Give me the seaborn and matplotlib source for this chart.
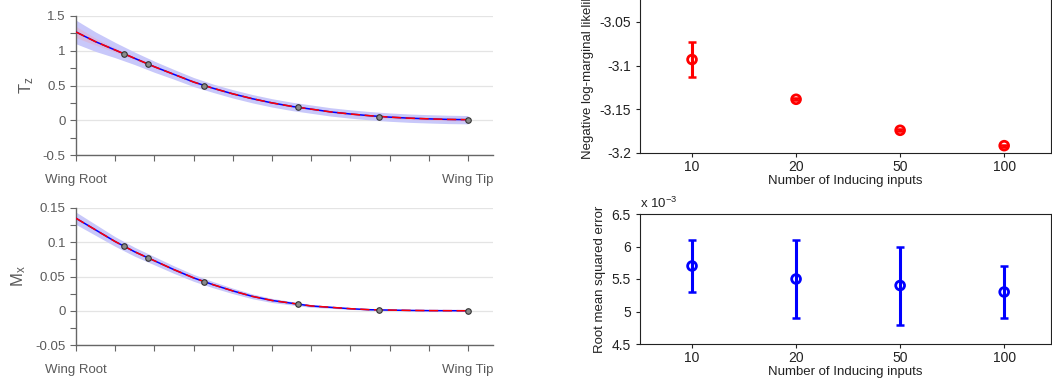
import numpy as np
import pandas as pd
import matplotlib
matplotlib.use('Agg')
import matplotlib.pyplot as plt
import seaborn as sns

# ---- wing load curves (span position 0 = root, 1 = tip) ----
span = [0.0, 0.05, 0.1, 0.15, 0.2, 0.25, 0.3, 0.35, 0.4, 0.45, 0.5,
        0.55, 0.6, 0.65, 0.7, 0.75, 0.8, 0.85, 0.9, 0.95, 1.0]
tz_mean = [1.27, 1.13, 1.01, 0.89, 0.77, 0.66, 0.55, 0.46, 0.38, 0.31, 0.25,
           0.20, 0.16, 0.12, 0.09, 0.065, 0.045, 0.03, 0.02, 0.012, 0.008]
tz_band = [0.17, 0.14, 0.11, 0.09, 0.08, 0.07, 0.065, 0.06, 0.06, 0.06, 0.06,
           0.06, 0.06, 0.06, 0.06, 0.06, 0.06, 0.06, 0.06, 0.06, 0.06]
tz_band_inner = [0.08, 0.05, 0.03, 0.02, 0.015, 0.01, 0.01, 0.01, 0.01, 0.01, 0.01,
                 0.01, 0.01, 0.01, 0.015, 0.015, 0.02, 0.02, 0.02, 0.02, 0.02]
mx_mean = [0.135, 0.118, 0.101, 0.086, 0.073, 0.060, 0.048, 0.038, 0.029, 0.021, 0.015,
           0.011, 0.007, 0.005, 0.003, 0.0015, 0.001, 0.0005, 0.0002, 0.0001, 0.0]
mx_band = [0.009, 0.008, 0.007, 0.0065, 0.006, 0.0055, 0.005, 0.0045, 0.004, 0.0035, 0.003,
           0.0025, 0.002, 0.0015, 0.001, 0.0008, 0.0006, 0.0004, 0.0003, 0.0002, 0.0001]

obs_span = [0.122, 0.183, 0.327, 0.567, 0.772, 1.0]
tz_obs = [0.95, 0.81, 0.49, 0.19, 0.05, 0.01]
mx_obs = [0.094, 0.077, 0.042, 0.010, 0.001, 0.0]

# ---- inducing input study ----
n_inducing = ['10', '20', '50', '100']
nlml_mean = [-3.093, -3.1385, -3.174, -3.1916]
nlml_err = [0.020, 0.001, 0.001, 0.001]
rmse_mean = [5.7e-3, 5.5e-3, 5.4e-3, 5.3e-3]
rmse_lo = [5.3e-3, 4.9e-3, 4.8e-3, 4.9e-3]
rmse_hi = [6.1e-3, 6.1e-3, 6.0e-3, 5.7e-3]

W, H = 1052, 381
GREY = '#5a5a5a'

sns.set_style('white')
plt.rcParams['font.family'] = ['Liberation Sans', 'DejaVu Sans']
plt.rcParams['mathtext.fontset'] = 'custom'
plt.rcParams['mathtext.rm'] = 'Liberation Sans'

fig = plt.figure(figsize=(W / 100, H / 100), dpi=100)


def px_axes(x0, x1, ytop, ybot):
    return fig.add_axes([x0 / W, (H - ybot) / H, (x1 - x0) / W, (ybot - ytop) / H])


def wing_panel(ax, mean, band, inner, obs, ylim, yticks, minor, label):
    df = pd.DataFrame({'span': span, 'mean': mean})
    lo = np.array(mean) - np.array(band)
    hi = np.array(mean) + np.array(band)
    ax.fill_between(span, lo, hi, color='#c8c8fa', lw=0, zorder=1)
    if inner is not None:
        ax.fill_between(span, np.array(mean) - np.array(inner), np.array(mean) + np.array(inner),
                        color='#e8a8c0', alpha=0.45, lw=0, zorder=2)
    sns.lineplot(data=df, x='span', y='mean', ax=ax, color='blue', lw=1.1, zorder=3)
    sns.lineplot(data=df, x='span', y='mean', ax=ax, color='red', lw=1.1,
                 dashes=(6, 3), zorder=4)
    sns.scatterplot(x=obs_span, y=obs, ax=ax, marker='o', s=16, color='#8a8a8a',
                    edgecolor='#333333', linewidth=0.8, zorder=5)
    ax.set_xlim(0, 1.064)
    ax.set_ylim(*ylim)
    ax.set_yticks(yticks)
    ax.set_yticks(minor, minor=True)
    ax.set_yticklabels([('%g' % t) for t in yticks])
    ax.set_xticks(np.arange(0, 1.01, 0.1))
    ax.set_xticklabels(['Wing Root'] + [''] * 9 + ['Wing Tip'])
    ax.grid(axis='y', which='major', color='#e4e4e4', lw=0.9)
    for s in ['top', 'right']:
        ax.spines[s].set_visible(False)
    for s in ['left', 'bottom']:
        ax.spines[s].set_color('#666666')
        ax.spines[s].set_linewidth(1.0)
    ax.tick_params(which='both', direction='out', length=4, width=0.8, color='#666666',
                   labelcolor=GREY, labelsize=9.5, left=True, bottom=True)
    ax.tick_params(axis='x', pad=10)
    ax.set_xlabel('')
    ax.set_ylabel(label, fontsize=12, color=GREY, labelpad=5)


ax1 = px_axes(76, 493, 16, 155)
wing_panel(ax1, tz_mean, tz_band, tz_band_inner, tz_obs, (-0.5, 1.5),
           [-0.5, 0, 0.5, 1, 1.5], [-0.25, 0.25, 0.75, 1.25], r'$\mathregular{T_z}$')
ax2 = px_axes(76, 493, 208, 345)
wing_panel(ax2, mx_mean, mx_band, None, mx_obs, (-0.05, 0.15),
           [-0.05, 0, 0.05, 0.1, 0.15], [-0.025, 0.025, 0.075, 0.125], r'$\mathregular{M_x}$')


def study_panel(ax, mean, lo_err, hi_err, color, ylim, yticks, ylabel):
    xpos = np.arange(len(n_inducing))
    ax.errorbar(xpos, mean, yerr=[lo_err, hi_err], fmt='none', ecolor=color,
                elinewidth=2.2, capsize=3, capthick=1.8, zorder=2)
    sns.scatterplot(x=xpos, y=mean, ax=ax, marker='o', s=40, color=color,
                    edgecolor=color, linewidth=2, zorder=3)
    ax.collections[-1].set_facecolor('none')
    ax.set_xlim(-0.5, 3.45)
    ax.set_ylim(*ylim)
    ax.set_yticks(yticks)
    ax.set_xticks(xpos)
    ax.set_xticklabels(n_inducing)
    for s in ax.spines.values():
        s.set_color('#222222')
        s.set_linewidth(0.8)
    ax.tick_params(direction='out', length=3, width=0.8, labelsize=10, colors='#222222',
                   left=True, bottom=True)
    ax.tick_params(axis='x', pad=2)
    ax.set_xlabel('Number of Inducing inputs', fontsize=9.5, color='#222222', labelpad=1)
    ax.set_ylabel(ylabel, fontsize=9.5, color='#222222', labelpad=4)


ax3 = px_axes(640, 1051, -21.7, 153)
study_panel(ax3, nlml_mean, nlml_err, nlml_err, 'red', (-3.2, -3.0),
            [-3.2, -3.15, -3.1, -3.05], 'Negative log-marginal likelihood')
ax3.set_yticklabels(['-3.2', '-3.15', '-3.1', '-3.05'])

ax4 = px_axes(640, 1051, 214, 344)
lo4 = [m - l for m, l in zip(rmse_mean, rmse_lo)]
hi4 = [h - m for m, h in zip(rmse_mean, rmse_hi)]
study_panel(ax4, rmse_mean, lo4, hi4, 'blue', (4.5e-3, 6.5e-3),
            [4.5e-3, 5e-3, 5.5e-3, 6e-3, 6.5e-3], 'Root mean squared error')
ax4.set_yticklabels(['4.5', '5', '5.5', '6', '6.5'])
ax4.text(0.0, 1.02, r'x 10$^{-3}$', transform=ax4.transAxes, fontsize=9.5,
         color='#222222', ha='left', va='bottom')

fig.savefig('out.png', dpi=100)
